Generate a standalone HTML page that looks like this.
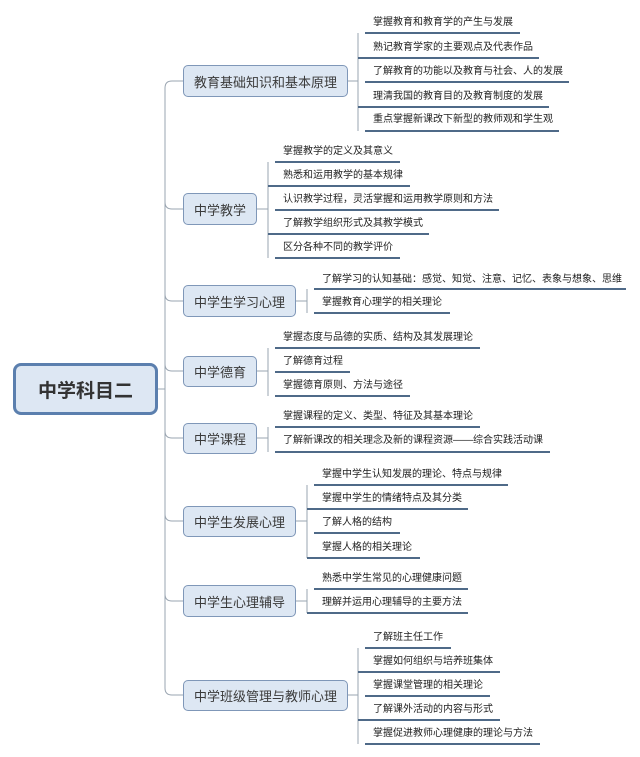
<!DOCTYPE html>
<html><head><meta charset="utf-8"><style>
body{margin:0;width:640px;height:757px;background:#fff;position:relative;overflow:hidden;font-family:"Liberation Sans","Noto Sans CJK SC",sans-serif;}
.b{position:absolute;box-sizing:border-box;border:1.5px solid #7f97b8;border-radius:5px;background:#dde7f3;color:#3a3a3a;font-size:13px;display:flex;align-items:center;justify-content:center;left:183px;white-space:nowrap;}
.l{position:absolute;font-size:10px;color:#222;white-space:nowrap;line-height:12px;}
svg{position:absolute;left:0;top:0;}
</style></head><body>
<svg width="640" height="757">
<g fill="none" stroke="#9aa5b1" stroke-width="1">
<line x1="158" y1="389" x2="165" y2="389"/>
<path d="M183 81 H172 Q165 81 165 88 V688 Q165 695 172 695 H183"/>
<path d="M165 202 Q165 209 172 209 H183"/>
<path d="M165 294 Q165 301 172 301 H183"/>
<path d="M165 364 Q165 371 172 371 H183"/>
<path d="M165 431 Q165 438 172 438 H183"/>
<path d="M165 514 Q165 521 172 521 H183"/>
<path d="M165 594 Q165 601 172 601 H183"/>
<line x1="348" y1="81" x2="358" y2="81"/><line x1="358" y1="33" x2="358" y2="131"/>
<line x1="257" y1="209" x2="268" y2="209"/><line x1="268" y1="162" x2="268" y2="258"/>
<line x1="296" y1="301" x2="307" y2="301"/><line x1="307" y1="289" x2="307" y2="313"/>
<line x1="257" y1="371" x2="268" y2="371"/><line x1="268" y1="348" x2="268" y2="396"/>
<line x1="257" y1="438" x2="268" y2="438"/><line x1="268" y1="427" x2="268" y2="452"/>
<line x1="296" y1="521" x2="307" y2="521"/><line x1="307" y1="485" x2="307" y2="558"/>
<line x1="296" y1="601" x2="307" y2="601"/><line x1="307" y1="589" x2="307" y2="613"/>
<line x1="348" y1="695" x2="358" y2="695"/><line x1="358" y1="648" x2="358" y2="744"/>
</g>
<g stroke="#4f6a88" stroke-width="2">
<line x1="365" y1="33" x2="520" y2="33"/><line x1="358" y1="58" x2="539" y2="58"/><line x1="365" y1="82" x2="569" y2="82"/><line x1="358" y1="107" x2="549" y2="107"/><line x1="365" y1="131" x2="559" y2="131"/>
<line x1="275" y1="162" x2="400" y2="162"/><line x1="268" y1="186" x2="410" y2="186"/><line x1="275" y1="210" x2="499" y2="210"/><line x1="268" y1="234" x2="429" y2="234"/><line x1="275" y1="258" x2="400" y2="258"/>
<line x1="314" y1="289" x2="626" y2="289"/><line x1="314" y1="313" x2="450" y2="313"/>
<line x1="275" y1="348" x2="480" y2="348"/><line x1="275" y1="372" x2="350" y2="372"/><line x1="275" y1="396" x2="410" y2="396"/>
<line x1="275" y1="427" x2="480" y2="427"/><line x1="275" y1="452" x2="550" y2="452"/>
<line x1="314" y1="485" x2="508" y2="485"/><line x1="307" y1="509" x2="468" y2="509"/><line x1="314" y1="533" x2="400" y2="533"/><line x1="307" y1="558" x2="420" y2="558"/>
<line x1="314" y1="589" x2="468" y2="589"/><line x1="307" y1="613" x2="468" y2="613"/>
<line x1="365" y1="648" x2="451" y2="648"/><line x1="358" y1="672" x2="500" y2="672"/><line x1="365" y1="696" x2="490" y2="696"/><line x1="358" y1="720" x2="500" y2="720"/><line x1="365" y1="744" x2="540" y2="744"/>
</g>
</svg>
<div class="b" style="left:13px;top:363px;width:145px;height:52px;border:3px solid #5b7fae;border-radius:8px;font-size:19px;font-weight:bold;color:#333;">中学科目二</div>
<div class="b" style="top:65px;width:165px;height:32px;">教育基础知识和基本原理</div>
<div class="b" style="top:193px;width:74px;height:32px;">中学教学</div>
<div class="b" style="top:285px;width:113px;height:32px;">中学生学习心理</div>
<div class="b" style="top:356px;width:74px;height:31px;">中学德育</div>
<div class="b" style="top:423px;width:74px;height:31px;">中学课程</div>
<div class="b" style="top:506px;width:113px;height:31px;">中学生发展心理</div>
<div class="b" style="top:585px;width:113px;height:32px;">中学生心理辅导</div>
<div class="b" style="top:680px;width:165px;height:31px;">中学班级管理与教师心理</div>

<div class="l" style="left:373px;top:17px">掌握教育和教育学的产生与发展</div>
<div class="l" style="left:373px;top:42px">熟记教育学家的主要观点及代表作品</div>
<div class="l" style="left:373px;top:66px">了解教育的功能以及教育与社会、人的发展</div>
<div class="l" style="left:373px;top:91px">理清我国的教育目的及教育制度的发展</div>
<div class="l" style="left:373px;top:114px">重点掌握新课改下新型的教师观和学生观</div>

<div class="l" style="left:283px;top:146px">掌握教学的定义及其意义</div>
<div class="l" style="left:283px;top:170px">熟悉和运用教学的基本规律</div>
<div class="l" style="left:283px;top:194px">认识教学过程，灵活掌握和运用教学原则和方法</div>
<div class="l" style="left:283px;top:218px">了解教学组织形式及其教学模式</div>
<div class="l" style="left:283px;top:242px">区分各种不同的教学评价</div>

<div class="l" style="left:322px;top:274px">了解学习的认知基础：感觉、知觉、注意、记忆、表象与想象、思维</div>
<div class="l" style="left:322px;top:297px">掌握教育心理学的相关理论</div>

<div class="l" style="left:283px;top:332px">掌握态度与品德的实质、结构及其发展理论</div>
<div class="l" style="left:283px;top:356px">了解德育过程</div>
<div class="l" style="left:283px;top:380px">掌握德育原则、方法与途径</div>

<div class="l" style="left:283px;top:411px">掌握课程的定义、类型、特征及其基本理论</div>
<div class="l" style="left:283px;top:435px">了解新课改的相关理念及新的课程资源——综合实践活动课</div>

<div class="l" style="left:322px;top:469px">掌握中学生认知发展的理论、特点与规律</div>
<div class="l" style="left:322px;top:493px">掌握中学生的情绪特点及其分类</div>
<div class="l" style="left:322px;top:517px">了解人格的结构</div>
<div class="l" style="left:322px;top:542px">掌握人格的相关理论</div>

<div class="l" style="left:322px;top:573px">熟悉中学生常见的心理健康问题</div>
<div class="l" style="left:322px;top:597px">理解并运用心理辅导的主要方法</div>

<div class="l" style="left:373px;top:632px">了解班主任工作</div>
<div class="l" style="left:373px;top:656px">掌握如何组织与培养班集体</div>
<div class="l" style="left:373px;top:680px">掌握课堂管理的相关理论</div>
<div class="l" style="left:373px;top:704px">了解课外活动的内容与形式</div>
<div class="l" style="left:373px;top:728px">掌握促进教师心理健康的理论与方法</div>
</body></html>
